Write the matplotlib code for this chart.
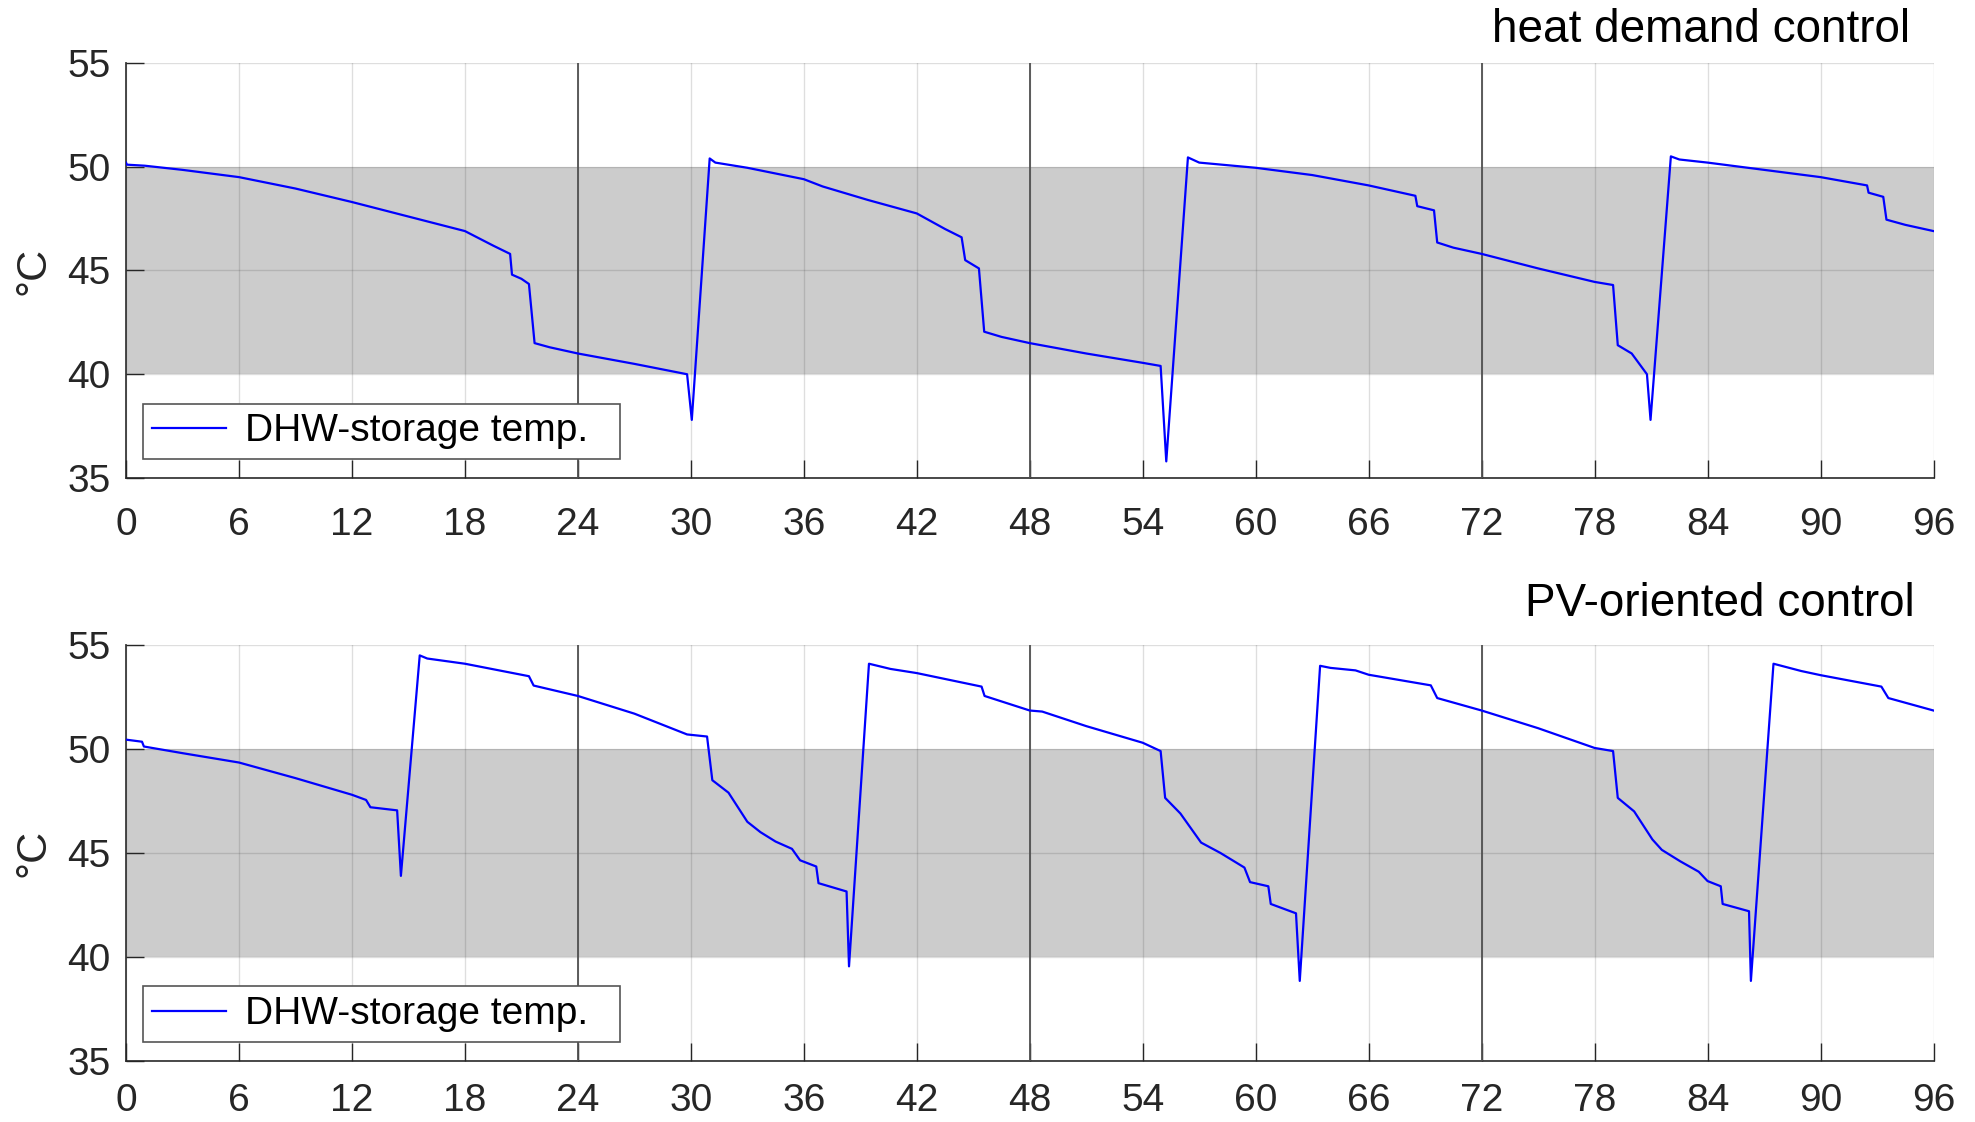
import matplotlib
matplotlib.use("Agg")
import matplotlib.pyplot as plt

plt.rcParams['font.family'] = ['Liberation Sans', 'DejaVu Sans']

# ---- data (hours, °C) ----
hd_t = [0, 0.05, 1, 3, 6, 9, 12, 15, 18, 19.5, 20.4, 20.5, 21.0, 21.4, 21.7, 22.5, 24, 27,
        29.8, 30.05, 31.0, 31.3, 33, 36, 37, 39.4, 42, 43.5, 44.38, 44.57, 45.3, 45.58, 46.5,
        48, 51, 54, 54.95, 55.25, 56.4, 57, 60, 63, 66, 68.48, 68.58, 69.47, 69.64, 70.5, 72,
        75, 78, 78.98, 79.23, 79.97, 80.78, 80.97, 82.05, 82.5, 84, 87, 90, 92.47, 92.55,
        93.33, 93.5, 94.5, 96]
hd_temp = [50.2, 50.1, 50.05, 49.85, 49.5, 48.95, 48.3, 47.6, 46.9, 46.2, 45.8, 44.8, 44.6,
           44.35, 41.5, 41.3, 41.0, 40.5, 40.0, 37.8, 50.4, 50.2, 49.95, 49.4, 49.05, 48.4,
           47.75, 47.0, 46.6, 45.5, 45.1, 42.05, 41.8, 41.5, 41.0, 40.55, 40.4, 35.8, 50.45,
           50.2, 49.95, 49.6, 49.1, 48.6, 48.1, 47.9, 46.35, 46.1, 45.8, 45.1, 44.45, 44.3,
           41.4, 41.0, 40.0, 37.8, 50.5, 50.35, 50.2, 49.85, 49.5, 49.1, 48.75, 48.55, 47.45,
           47.2, 46.9]

pv_t = [0, 0.85, 0.95, 3, 6, 9, 12, 12.75, 12.98, 14.4, 14.6, 15.6, 16, 18, 21.4, 21.65, 24,
        27, 29.8, 30.86, 31.14, 32.0, 33.0, 33.7, 34.5, 35.37, 35.8, 36.66, 36.78, 38.27, 38.4,
        39.46, 40.6, 42, 45.44, 45.6, 48, 48.66, 51, 54, 54.95, 55.19, 56.0, 57.1, 58.13, 59.4,
        59.7, 60.67, 60.8, 62.14, 62.34, 63.42, 63.97, 65.3, 66, 69.3, 69.64, 72, 75, 78, 78.98,
        79.23, 80.1, 81.07, 81.57, 82.55, 83.53, 84, 84.7, 84.8, 86.2, 86.3, 87.5, 88.97, 90,
        93.23, 93.6, 96]
pv_temp = [50.45, 50.35, 50.12, 49.8, 49.35, 48.6, 47.8, 47.55, 47.2, 47.05, 43.9, 54.5, 54.35,
           54.1, 53.5, 53.05, 52.55, 51.7, 50.7, 50.6, 48.5, 47.9, 46.5, 46.0, 45.55, 45.2,
           44.65, 44.35, 43.55, 43.15, 39.55, 54.1, 53.85, 53.65, 53.0, 52.55, 51.85, 51.8,
           51.1, 50.3, 49.9, 47.65, 46.9, 45.5, 45.0, 44.3, 43.6, 43.4, 42.55, 42.1, 38.85,
           54.0, 53.9, 53.78, 53.57, 53.06, 52.45, 51.85, 51.0, 50.05, 49.9, 47.65, 47.0, 45.65,
           45.15, 44.6, 44.1, 43.65, 43.4, 42.55, 42.2, 38.85, 54.1, 53.75, 53.55, 53.0, 52.45,
           51.85]

band = (40, 50)
day_marks = [24, 48, 72]
xticks = list(range(0, 97, 6))
yticks = [35, 40, 45, 50, 55]
titles = ["heat demand control", "PV-oriented control"]
legend_label = "DHW-storage temp."
ylabel = "°C"

fig = plt.figure(figsize=(19.75, 11.22), dpi=100)
ax1 = fig.add_axes([0.0638, 0.57398, 0.9152, 0.36987])
ax2 = fig.add_axes([0.0638, 0.05437, 0.9152, 0.37076])

dark = '#262626'
for ax, t, y, xpad in [(ax1, hd_t, hd_temp, 21), (ax2, pv_t, pv_temp, 16)]:
    ax.axhspan(band[0], band[1], color='#cccccc', lw=0, zorder=1)
    for d in day_marks:
        ax.axvline(d, color='#505050', lw=1.3, zorder=2.6)
    ax.plot(t, y, color='#0000ff', lw=1.6, zorder=3, label=legend_label)
    ax.set_xlim(0, 96)
    ax.set_ylim(35, 55)
    ax.set_xticks(xticks)
    ax.set_yticks(yticks)
    ax.set_axisbelow(False)
    ax.grid(True, color=dark, alpha=0.15, lw=1.0)
    for s in ['top', 'right']:
        ax.spines[s].set_visible(False)
    for s in ['left', 'bottom']:
        ax.spines[s].set_color('#3a3a3a')
        ax.spines[s].set_linewidth(1.3)
    ax.tick_params(direction='in', length=13, width=1.0, colors=dark, labelsize=28)
    ax.tick_params(axis='y', pad=11)
    ax.tick_params(axis='x', pad=xpad)
    ax.set_ylabel(ylabel, fontsize=31, color=dark, rotation=90)
    ax.yaxis.set_label_coords(-0.040, 0.5)
    leg = ax.legend(loc='lower left', bbox_to_anchor=(0.00924, 0.0458, 0.2641, 0.133),
                    mode='expand', borderaxespad=0, fontsize=28, handlelength=1.88,
                    handletextpad=0.5, borderpad=0.25, fancybox=False, framealpha=1,
                    edgecolor='#555555')
    leg.get_frame().set_linewidth(1.2)
    leg.set_zorder(5)

fig.text(1910 / 1975, 1 - 42 / 1122, titles[0], ha='right', va='baseline', fontsize=33, color='black')
fig.text(1915 / 1975, 1 - 616 / 1122, titles[1], ha='right', va='baseline', fontsize=33, color='black')

fig.savefig('out.png', dpi=100)
